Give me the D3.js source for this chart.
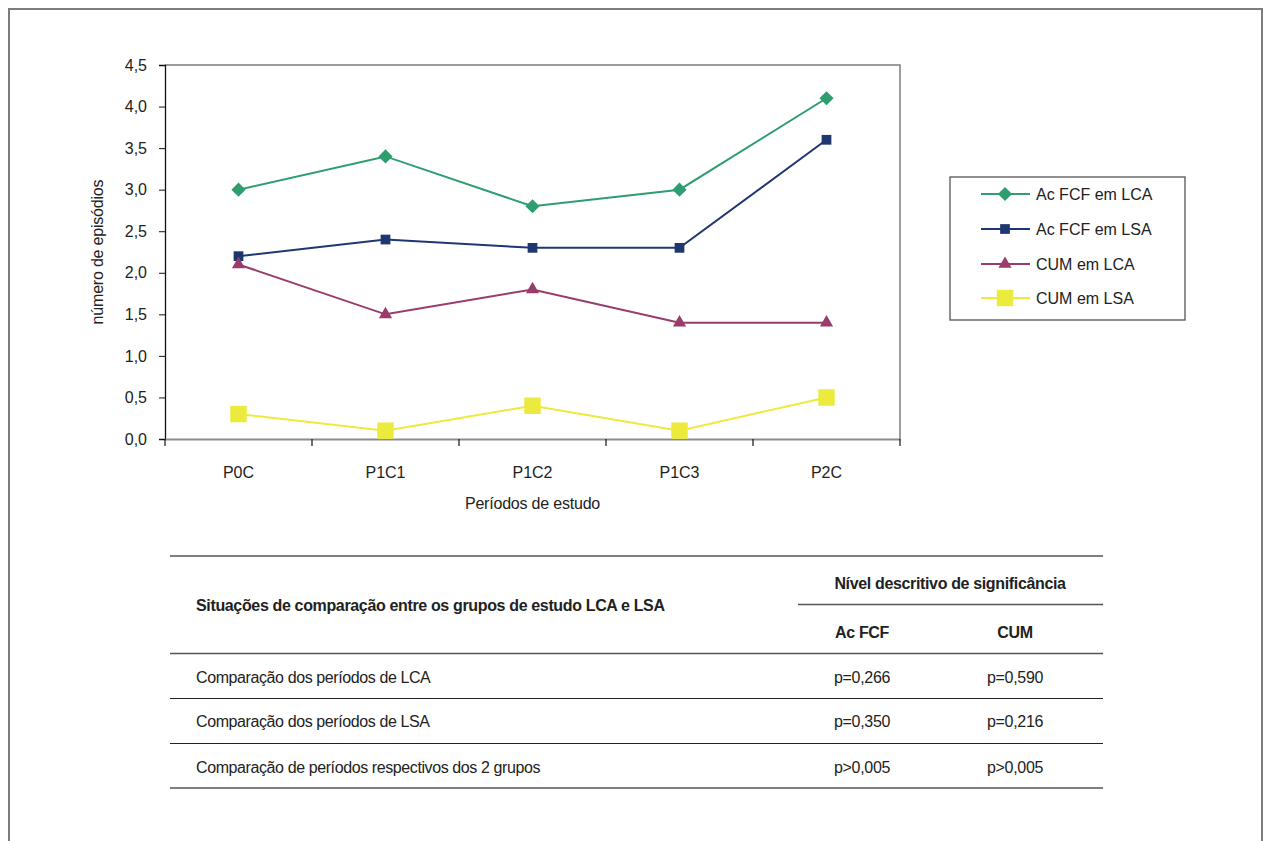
<!DOCTYPE html>
<html>
<head>
<meta charset="utf-8">
<script src="https://cdn.jsdelivr.net/npm/d3@7/dist/d3.min.js"></script>
<style>
  html, body { margin: 0; padding: 0; background: #fff; }
  svg { display: block; font-family: "Liberation Sans", Arial, sans-serif; }
</style>
</head>
<body>
<svg id="chart" width="1269" height="841"></svg>
<script>
// Study periods and mean number of episodes per group
const periods = ["P0C", "P1C1", "P1C2", "P1C3", "P2C"];
const acFcfLca = [3.0, 3.4, 2.8, 3.0, 4.1];
const acFcfLsa = [2.2, 2.4, 2.3, 2.3, 3.6];
const cumLca = [2.1, 1.5, 1.8, 1.4, 1.4];
const cumLsa = [0.3, 0.1, 0.4, 0.1, 0.5];
const yTicks = [0, 0.5, 1, 1.5, 2, 2.5, 3, 3.5, 4, 4.5];

// Significance table
const tableRows = [
  "Comparação dos períodos de LCA",
  "Comparação dos períodos de LSA",
  "Comparação de períodos respectivos dos 2 grupos"
];
const pAcFcf = ["p=0,266", "p=0,350", "p>0,005"];
const pCum = ["p=0,590", "p=0,216", "p>0,005"];

const series = [
  { name: "Ac FCF em LCA", values: acFcfLca, color: "#2e9d6f", symbol: "diamond", size: 100 },
  { name: "Ac FCF em LSA", values: acFcfLsa, color: "#1f3771", symbol: "square", size: 95 },
  { name: "CUM em LCA", values: cumLca, color: "#993b6c", symbol: "triangle", size: 75 },
  { name: "CUM em LSA", values: cumLsa, color: "#ecea3c", symbol: "square", size: 270 }
];
const symbolTypes = { diamond: d3.symbolSquare, square: d3.symbolSquare, triangle: d3.symbolTriangle };
const symbolRotate = s => (s === "diamond" ? " rotate(45)" : "");

const svg = d3.select("#chart");

// Outer frame (open at the bottom)
svg.append("path")
  .attr("d", "M9,845 L9,9 L1262,9 L1262,845")
  .attr("fill", "none").attr("stroke", "#7d7d7d").attr("stroke-width", 2);

const plot = { left: 165, right: 900, top: 65, bottom: 439 };

const x = d3.scaleBand().domain(periods).range([plot.left, plot.right]).padding(0);
const y = d3.scaleLinear().domain([0, 4.5]).range([plot.bottom, plot.top]);

const ptBR = d3.formatLocale({ decimal: ",", thousands: ".", grouping: [3], currency: ["", ""] });
const fmt = ptBR.format(".1f");

// Plot area border (top and right)
svg.append("path")
  .attr("d", `M${plot.left},${plot.top} H${plot.right} V${plot.bottom}`)
  .attr("fill", "none").attr("stroke", "#7d7d7d").attr("stroke-width", 1.5);

// Y axis
const yAxis = svg.append("g")
  .attr("transform", `translate(${plot.left},0)`)
  .call(d3.axisLeft(y).tickValues(yTicks).tickFormat(fmt).tickSize(6).tickPadding(12));
yAxis.select(".domain").attr("stroke", "#111").attr("stroke-width", 1.3);
yAxis.selectAll(".tick line").attr("stroke", "#111");
yAxis.selectAll(".tick text").attr("font-size", 16).attr("fill", "#222")
  .attr("font-family", "'Liberation Sans', Arial, sans-serif");

// X axis: category labels centred, ticks at band boundaries
const xAxis = svg.append("g")
  .attr("transform", `translate(0,${plot.bottom})`)
  .call(d3.axisBottom(x).tickSize(0).tickPadding(28));
xAxis.select(".domain").attr("stroke", "#8c8c8c").attr("stroke-width", 2);
xAxis.selectAll(".tick text").attr("font-size", 16).attr("fill", "#222")
  .attr("font-family", "'Liberation Sans', Arial, sans-serif");
const boundaries = periods.map(p => x(p)).concat([x(periods[periods.length - 1]) + x.bandwidth()]);
xAxis.selectAll("line.bound").data(boundaries).enter().append("line")
  .attr("class", "bound")
  .attr("x1", d => d).attr("x2", d => d)
  .attr("y1", 0).attr("y2", 7)
  .attr("stroke", "#111").attr("stroke-width", 1.2);

// Axis titles
svg.append("text")
  .attr("transform", `translate(103,${(plot.top + plot.bottom) / 2}) rotate(-90)`)
  .attr("text-anchor", "middle").attr("font-size", 16).attr("fill", "#222")
  .attr("letter-spacing", "-0.2px")
  .text("número de episódios");
svg.append("text")
  .attr("x", (plot.left + plot.right) / 2).attr("y", 509)
  .attr("text-anchor", "middle").attr("font-size", 16).attr("fill", "#222")
  .attr("letter-spacing", "-0.2px")
  .text("Períodos de estudo");

// Lines and markers
const cx = p => x(p) + x.bandwidth() / 2;
const line = d3.line().x((d, i) => cx(periods[i])).y(d => y(d));

const sg = svg.selectAll("g.series").data(series).enter().append("g").attr("class", "series");
sg.append("path")
  .attr("d", d => line(d.values))
  .attr("fill", "none").attr("stroke", d => d.color).attr("stroke-width", 2);
sg.each(function (s) {
  d3.select(this).selectAll("path.marker").data(s.values).enter().append("path")
    .attr("class", "marker")
    .attr("transform", (v, i) => `translate(${cx(periods[i])},${y(v)})${symbolRotate(s.symbol)}`)
    .attr("d", d3.symbol().type(symbolTypes[s.symbol]).size(s.size))
    .attr("fill", s.color);
});

// Legend
const legend = { x: 950, y: 177, w: 235, h: 143 };
svg.append("rect")
  .attr("x", legend.x).attr("y", legend.y).attr("width", legend.w).attr("height", legend.h)
  .attr("fill", "#fff").attr("stroke", "#555").attr("stroke-width", 1.3);
const legendRows = [194, 229, 264, 298];
const lg = svg.selectAll("g.leg").data(series).enter().append("g")
  .attr("class", "leg")
  .attr("transform", (d, i) => `translate(0,${legendRows[i]})`);
lg.append("line").attr("x1", 981).attr("x2", 1030).attr("y1", 0).attr("y2", 0)
  .attr("stroke", d => d.color).attr("stroke-width", 2);
lg.append("path")
  .attr("transform", d => `translate(1005,0)${symbolRotate(d.symbol)}`)
  .attr("d", d => d3.symbol().type(symbolTypes[d.symbol]).size(d.size)())
  .attr("fill", d => d.color);
lg.append("text").attr("x", 1036).attr("y", 6).attr("font-size", 16).attr("fill", "#222")
  .text(d => d.name);

// Significance table
const tbl = { left: 170, right: 1103, subLeft: 798 };
const tg = svg.append("g").attr("fill", "#222");
const hline = (y0, x0, x1, w, c) => svg.append("line")
  .attr("x1", x0).attr("x2", x1).attr("y1", y0).attr("y2", y0)
  .attr("stroke", c).attr("stroke-width", w);
hline(556, tbl.left, tbl.right, 1.6, "#555");
hline(604.5, tbl.subLeft, tbl.right, 1.6, "#555");
hline(653.5, tbl.left, tbl.right, 1.4, "#555");

const boldText = (xp, yp, anchor, txt) => tg.append("text")
  .attr("x", xp).attr("y", yp).attr("text-anchor", anchor)
  .attr("font-size", 16).attr("font-weight", "bold").attr("letter-spacing", "-0.35px")
  .text(txt);
boldText(196, 611, "start", "Situações de comparação entre os grupos de estudo LCA e LSA");
boldText(950, 589, "middle", "Nível descritivo de significância");
const colAc = 862, colCum = 1015;
boldText(colAc, 638, "middle", "Ac FCF");
boldText(colCum, 638, "middle", "CUM");

const rowY = [683, 727, 773];
const rowLineY = [698.5, 743.5, 788];
tableRows.forEach((r, i) => {
  tg.append("text").attr("x", 196).attr("y", rowY[i]).attr("font-size", 16)
    .attr("letter-spacing", "-0.4px").text(r);
  tg.append("text").attr("x", colAc).attr("y", rowY[i]).attr("text-anchor", "middle")
    .attr("font-size", 16).attr("letter-spacing", "-0.3px").text(pAcFcf[i]);
  tg.append("text").attr("x", colCum).attr("y", rowY[i]).attr("text-anchor", "middle")
    .attr("font-size", 16).attr("letter-spacing", "-0.3px").text(pCum[i]);
  hline(rowLineY[i], tbl.left, tbl.right, i === tableRows.length - 1 ? 1.6 : 1.2, i === tableRows.length - 1 ? "#555" : "#222");
});
</script>
</body>
</html>
